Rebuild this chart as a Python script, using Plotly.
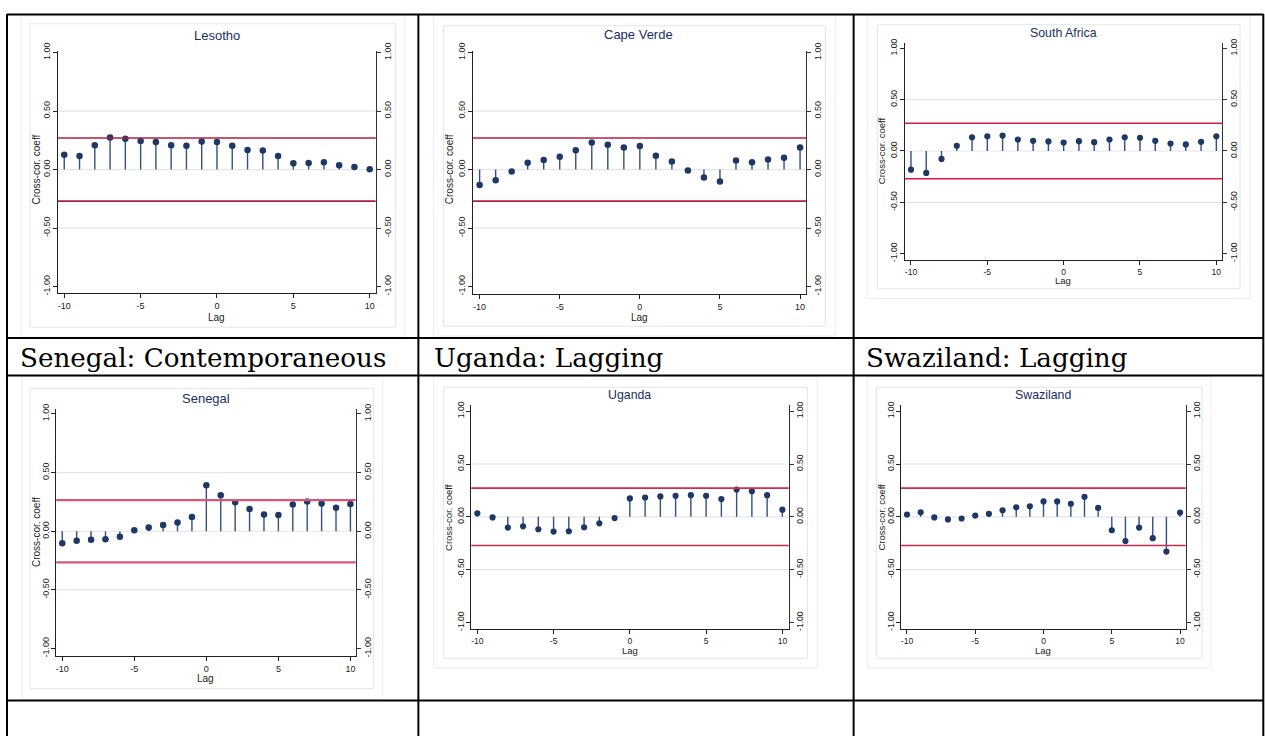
import plotly.graph_objects as go

W, H = 1265, 738

# ---------------- data ----------------
lags = list(range(-10, 11))
x_tick_vals = [-10, -5, 0, 5, 10]
x_tick_text = ["-10", "-5", "0", "5", "10"]
y_tick_vals = [-1.0, -0.5, 0.0, 0.5, 1.0]
y_tick_text = ["-1.00", "-0.50", "0.00", "0.50", "1.00"]
grid_vals = [-0.5, 0.0, 0.5]

lesotho = [0.126, 0.115, 0.207, 0.275, 0.263, 0.244, 0.235, 0.207, 0.204, 0.241, 0.235,
           0.204, 0.168, 0.162, 0.115, 0.053, 0.056, 0.062, 0.036, 0.022, 0.003]
cape_verde = [-0.132, -0.092, -0.017, 0.059, 0.081, 0.109, 0.165, 0.232, 0.213, 0.188, 0.202,
              0.118, 0.070, -0.008, -0.067, -0.101, 0.078, 0.062, 0.087, 0.101, 0.188]
south_africa = [-0.182, -0.214, -0.077, 0.051, 0.134, 0.144, 0.150, 0.112, 0.099, 0.093, 0.083,
                0.096, 0.086, 0.112, 0.134, 0.128, 0.099, 0.073, 0.064, 0.089, 0.144]
senegal = [-0.103, -0.081, -0.072, -0.069, -0.047, 0.008, 0.033, 0.053, 0.075, 0.122, 0.392,
           0.306, 0.247, 0.189, 0.142, 0.139, 0.228, 0.253, 0.236, 0.200, 0.233]
uganda = [0.034, -0.006, -0.102, -0.090, -0.118, -0.140, -0.137, -0.099, -0.062, -0.012, 0.174,
          0.183, 0.193, 0.199, 0.205, 0.199, 0.168, 0.258, 0.242, 0.205, 0.068]
swaziland = [0.022, 0.043, -0.006, -0.025, -0.016, 0.012, 0.028, 0.062, 0.090, 0.099, 0.146,
             0.146, 0.124, 0.189, 0.084, -0.127, -0.230, -0.102, -0.202, -0.329, 0.040]

titles = ["Lesotho", "Cape Verde", "South Africa", "Senegal", "Uganda", "Swaziland"]
series = [lesotho, cape_verde, south_africa, senegal, uganda, swaziland]
bands = [0.27, 0.27, 0.27, 0.265, 0.272, 0.272]
row_headers = ["Senegal: Contemporaneous", "Uganda: Lagging", "Swaziland: Lagging"]

# ---------------- layout geometry (pixels) ----------------
geo = [
    dict(L=56.7, R=375.0, xm10=63.3, x10=369.0, y1=44.3, ym1=281.7, top=42.7, bot=288.3,
         tx=216, ty=27, lx=216, ly=313, yx=36, yy=163, outer=(20, 7, 404, 333), inner=(29, 15, 395, 323),
         red="#b01e3c", fs=1.0),
    dict(L=472.3, R=805.7, xm10=479.0, x10=799.7, y1=44.3, ym1=281.7, top=42.7, bot=289.5,
         tx=638, ty=26, lx=639, ly=313, yx=449, yy=163, outer=(433, 7, 835, 332), inner=(443, 17, 825, 322),
         red="#b81c3e", fs=1.0),
    dict(L=904.3, R=1222.3, xm10=910.7, x10=1216.3, y1=40.0, ym1=248.3, top=34.3, bot=255.0,
         tx=1063, ty=24, lx=1063, ly=276, yx=882, yy=144, outer=(867, 7, 1250, 294), inner=(877, 16, 1240, 284),
         red="#d41a46", fs=0.95),
    dict(L=55.3, R=355.0, xm10=61.3, x10=349.7, y1=411.0, ym1=649.3, top=406.0, bot=656.7,
         tx=205, ty=395, lx=205, ly=680, yx=35, yy=531, outer=(21, 373, 382, 701), inner=(29, 385, 373, 690),
         red="#d4587a", fs=1.0),
    dict(L=470.7, R=788.3, xm10=476.7, x10=782.0, y1=408.3, ym1=622.7, top=401.7, bot=629.0,
         tx=629, ty=392, lx=629, ly=651, yx=448, yy=516, outer=(433, 373, 817, 669), inner=(443, 384, 807, 659),
         red="#d42a4e", fs=0.95),
    dict(L=900.7, R=1185.7, xm10=906.7, x10=1180.0, y1=408.3, ym1=622.7, top=401.7, bot=629.0,
         tx=1043, ty=392, lx=1043, ly=651, yx=881, yy=516, outer=(867, 373, 1211, 669), inner=(876, 384, 1202, 659),
         red="#d42a4e", fs=0.95),
]

header_pos = [(17, 354), (431, 354), (864, 354)]

NAVY = "#1e3866"
STEM = "#34507e"
GRID = "#e0e6ef"
FONT = "Liberation Sans, Arial, sans-serif"
LABEL_STANDOFF = -1


def px(x):
    return x / W


def py(y):
    return 1 - y / H


fig = go.Figure()
shapes = []
annotations = []
layout = {}

# image frames first (white panels), table lines drawn over them
frame_shapes = []
line_shapes = []
for yy in [5.7, 334, 372, 702]:
    line_shapes.append(dict(type="line", xref="paper", yref="paper", x0=px(6), x1=px(1263.3),
                            y0=py(yy), y1=py(yy), line=dict(color="black", width=2), layer="below"))
for xx in [6, 417.7, 853.3, 1263.3]:
    line_shapes.append(dict(type="line", xref="paper", yref="paper", x0=px(xx), x1=px(xx),
                            y0=py(5), y1=py(738), line=dict(color="black", width=2), layer="below"))

for i, (title, vals, band, g) in enumerate(zip(titles, series, bands, geo)):
    n = i + 1
    xa = "x" if n == 1 else f"x{n}"
    ya = "y" if n == 1 else f"y{n}"
    ya_r = f"y{n + 6}"

    ox0, oy0, ox1, oy1 = g["outer"]
    frame_shapes.append(dict(type="rect", xref="paper", yref="paper", x0=px(ox0), x1=px(ox1),
                             y0=py(oy1), y1=py(oy0), fillcolor="white",
                             line=dict(color="#e8ecf3", width=1), layer="below"))
    ix0, iy0, ix1, iy1 = g["inner"]
    frame_shapes.append(dict(type="rect", xref="paper", yref="paper", x0=px(ix0), x1=px(ix1),
                             y0=py(iy1), y1=py(iy0), fillcolor="white",
                             line=dict(color="#dfe5ee", width=1), layer="below"))

    ppl = (g["x10"] - g["xm10"]) / 20.0
    xr = [-10 - (g["xm10"] - g["L"]) / ppl, 10 + (g["R"] - g["x10"]) / ppl]
    ppu = (g["ym1"] - g["y1"]) / 2.0
    yr = [-1 - (g["bot"] - g["ym1"]) / ppu, 1 + (g["y1"] - g["top"]) / ppu]

    xdom = [px(g["L"]), px(g["R"])]
    ydom = [py(g["bot"]), py(g["top"])]

    fs = g["fs"]
    tickfont = dict(family=FONT, size=9 * fs, color="#222")
    xkey = "xaxis" if n == 1 else f"xaxis{n}"
    ykey = "yaxis" if n == 1 else f"yaxis{n}"
    layout[xkey] = dict(domain=xdom, range=xr, anchor=ya, showgrid=False, zeroline=False,
                        showline=True, linecolor="#222", linewidth=1,
                        ticks="outside", ticklen=4, tickcolor="#222",
                        tickvals=x_tick_vals, ticktext=x_tick_text, tickfont=tickfont,
                        fixedrange=True)
    layout[ykey] = dict(domain=ydom, range=yr, anchor=xa, showgrid=False, zeroline=False,
                        showline=True, linecolor="#222", linewidth=1,
                        ticks="outside", ticklen=4, tickcolor="#222",
                        tickvals=y_tick_vals, ticktext=y_tick_text, tickangle=-90,
                        ticklabelstandoff=LABEL_STANDOFF,
                        tickfont=tickfont, fixedrange=True)
    layout[f"yaxis{n + 6}"] = dict(domain=ydom, range=yr, anchor=xa, overlaying=ya, side="right",
                                   showgrid=False, zeroline=False,
                                   showline=True, linecolor="#333", linewidth=1,
                                   ticks="outside", ticklen=4, tickcolor="#333",
                                   tickvals=y_tick_vals, ticktext=y_tick_text, tickangle=-90,
                                   ticklabelstandoff=LABEL_STANDOFF,
                                   tickfont=tickfont, fixedrange=True)

    for gv in grid_vals:
        shapes.append(dict(type="line", xref=f"{xa} domain", yref=ya, x0=0, x1=1, y0=gv, y1=gv,
                           line=dict(color=GRID, width=1.2), layer="below"))
    for bv in (band, -band):
        shapes.append(dict(type="line", xref=f"{xa} domain", yref=ya, x0=0, x1=1, y0=bv, y1=bv,
                           line=dict(color=g["red"], width=1.6 if i != 3 else 2.2), layer="above"))

    # stems on left axis, markers on the mirrored right axis (same range)
    sx, sy = [], []
    for lag, v in zip(lags, vals):
        sx += [lag, lag, None]
        sy += [0, v, None]
    fig.add_trace(go.Scatter(x=sx, y=sy, mode="lines", xaxis=xa, yaxis=ya,
                             line=dict(color=STEM, width=1.4), hoverinfo="skip", showlegend=False))
    fig.add_trace(go.Scatter(x=lags, y=vals, mode="markers", xaxis=xa, yaxis=ya_r,
                             marker=dict(color=NAVY, size=6.5 * fs), name=title, showlegend=False))

    annotations.append(dict(text=title, xref="paper", yref="paper", x=px(g["tx"]), y=py(g["ty"]),
                            showarrow=False, xanchor="center", yanchor="middle",
                            font=dict(family=FONT, size=13 * fs, color="#1a2f5e")))
    annotations.append(dict(text="Lag", xref="paper", yref="paper", x=px(g["lx"]), y=py(g["ly"]),
                            showarrow=False, xanchor="center", yanchor="middle",
                            font=dict(family=FONT, size=10 * fs, color="#222")))
    annotations.append(dict(text="Cross-cor. coeff", xref="paper", yref="paper", x=px(g["yx"]),
                            y=py(g["yy"]), showarrow=False, xanchor="center", yanchor="middle",
                            textangle=-90, font=dict(family=FONT, size=10 * fs, color="#222")))

for txt, (hx, hy) in zip(row_headers, header_pos):
    annotations.append(dict(text=txt, xref="paper", yref="paper", x=px(hx), y=py(hy),
                            showarrow=False, xanchor="left", yanchor="middle",
                            font=dict(family="DejaVu Serif, serif", size=26.2, color="black")))

fig.update_layout(width=W, height=H, margin=dict(l=0, r=0, t=0, b=0),
                  paper_bgcolor="white", plot_bgcolor="rgba(0,0,0,0)",
                  shapes=frame_shapes + line_shapes + shapes, annotations=annotations,
                  showlegend=False, **layout)

fig.write_html("out.html", config={"displayModeBar": False},
               post_script="document.body.style.margin='0';document.body.style.overflow='hidden';")
